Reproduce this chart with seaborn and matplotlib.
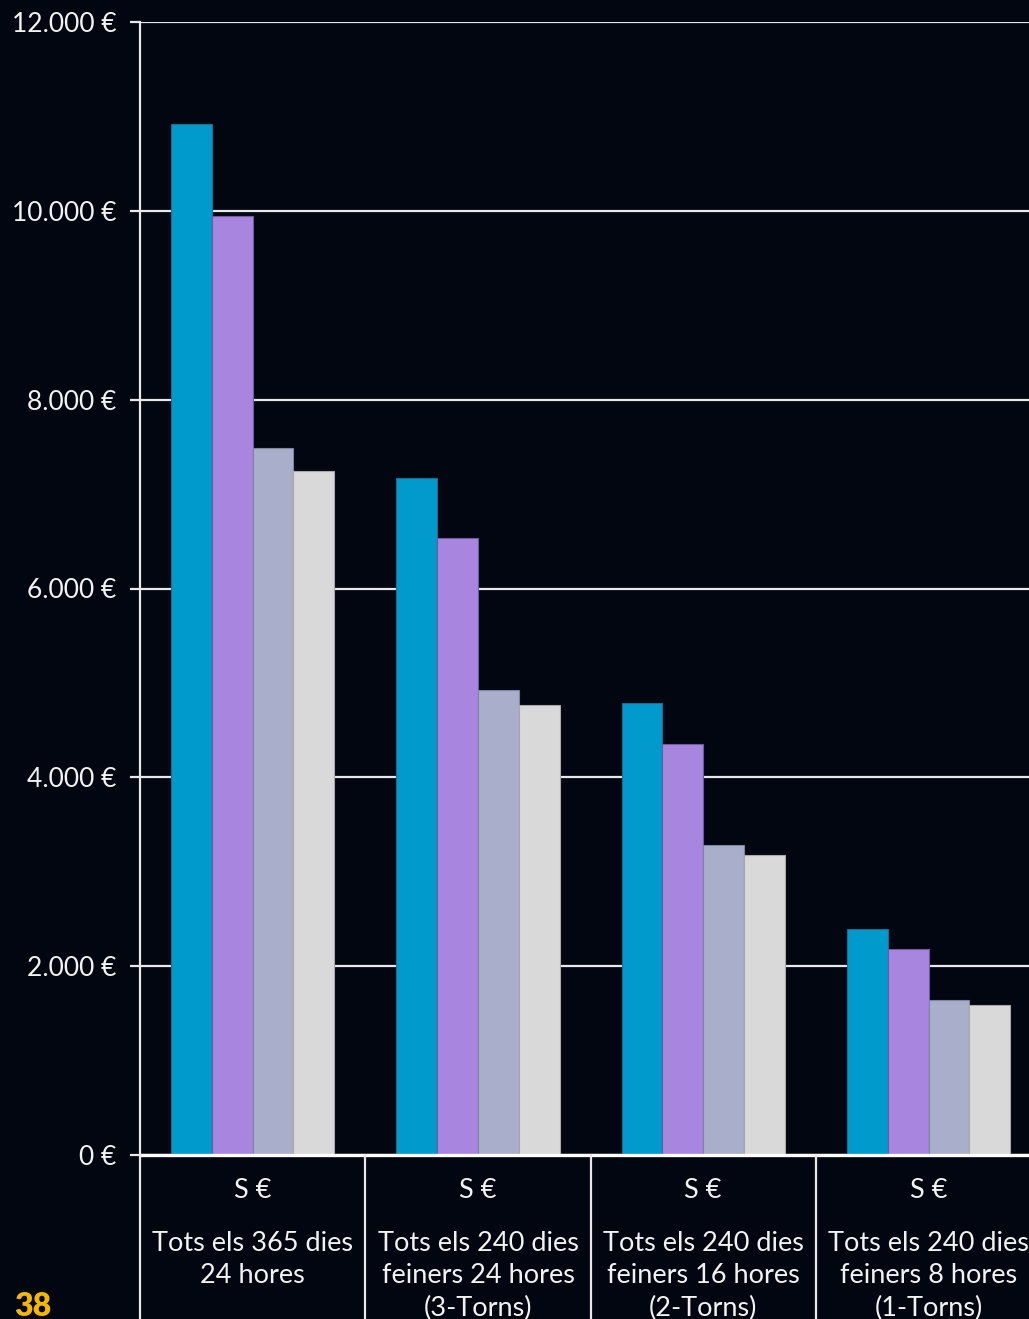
import matplotlib
matplotlib.use("Agg")
import matplotlib.pyplot as plt
import seaborn as sns
import pandas as pd
from matplotlib.ticker import FuncFormatter

# ---- data ----
categories = ["Tots els 365 dies\n24 hores",
              "Tots els 240 dies\nfeiners 24 hores\n(3-Torns)",
              "Tots els 240 dies\nfeiners 16 hores\n(2-Torns)",
              "Tots els 240 dies\nfeiners 8 hores\n(1-Torns)"]
series_names = ["Sèrie 1", "Sèrie 2", "Sèrie 3", "Sèrie 4"]
serie_1 = [10920, 7170, 4790, 2395]
serie_2 = [9950, 6540, 4355, 2180]
serie_3 = [7490, 4925, 3285, 1640]
serie_4 = [7245, 4765, 3180, 1590]
header_label = "S €"
y_ticks = [0, 2000, 4000, 6000, 8000, 10000, 12000]
page_number = "38"

colors = ["#009BCC", "#A886DF", "#A9AECB", "#D9D9D9"]
edge_colors = ["#1F6A8E", "#6F5AA0", "#7E83A3", "#A8A8A8"]
bg = "#020611"
fg = "#F2F2F2"

rows = []
for s, vals in zip(series_names, [serie_1, serie_2, serie_3, serie_4]):
    for c, v in zip(categories, vals):
        rows.append({"cat": c, "serie": s, "val": v})
df = pd.DataFrame(rows)

sns.set_theme(style="dark")
plt.rcParams["font.family"] = ["Lato", "DejaVu Sans"]

W, H = 1029, 1319
fig = plt.figure(figsize=(W / 100, H / 100), dpi=100, facecolor=bg)
ax = fig.add_axes([140 / W, 1 - 1155 / H, (W - 140) / W, (1155 - 22) / H])
ax.set_facecolor(bg)

sns.barplot(data=df, x="cat", y="val", hue="serie", order=categories,
            hue_order=series_names, palette=colors, width=0.725,
            linewidth=0.8, saturation=1, ax=ax, legend=False)

for i, cont in enumerate(ax.containers):
    for p in cont:
        p.set_edgecolor(edge_colors[i])
        p.set_zorder(3)

ax.set_ylim(0, 12000)
ax.set_xlim(-0.5, -0.5 + (W - 140) / 225.3)
ax.set_yticks(y_ticks)
ax.yaxis.set_major_formatter(FuncFormatter(lambda v, p: f"{int(v):,}".replace(",", ".") + " €"))
ax.set_xticks([])
ax.set_xlabel("")
ax.set_ylabel("")
ax.grid(axis="y", color="#E8E8E8", linewidth=1.6, zorder=1)
ax.grid(axis="x", visible=False)
ax.set_axisbelow(True)
for sp in ["top", "right", "bottom"]:
    ax.spines[sp].set_visible(False)
ax.spines["left"].set_color("#E8E8E8")
ax.spines["left"].set_linewidth(1.6)
ax.tick_params(axis="y", colors=fg, labelsize=19, length=7, width=1.6,
               pad=10, left=True, labelcolor=fg)
ax.tick_params(axis="y", color="#E8E8E8")

# bottom category table
trans = ax.get_xaxis_transform()
ax.axhline(0, color="#FFFFFF", linewidth=2.4, zorder=4, clip_on=False)
y_bottom = -(H - 1155) / (1155 - 22)
for xb in [-0.5, 0.5, 1.5, 2.5, 3.5]:
    ax.plot([xb, xb], [0, y_bottom], transform=trans, color="#E8E8E8",
            linewidth=1.6, clip_on=False, zorder=4)
y_hdr = -(1190 - 1155) / (1155 - 22)
y_cat = -(1231 - 1155) / (1155 - 22)
for i, c in enumerate(categories):
    ax.text(i, y_hdr, header_label, transform=trans, ha="center", va="center",
            color=fg, fontsize=19.5)
    ax.text(i, y_cat, c, transform=trans, ha="center", va="top",
            color=fg, fontsize=19.5, linespacing=1.36)

fig.text(14 / W, 1 - 1321 / H, page_number, color="#F5B800", fontsize=23,
         fontweight="heavy", ha="left", va="bottom")

fig.savefig("out.png", dpi=100, facecolor=bg)
